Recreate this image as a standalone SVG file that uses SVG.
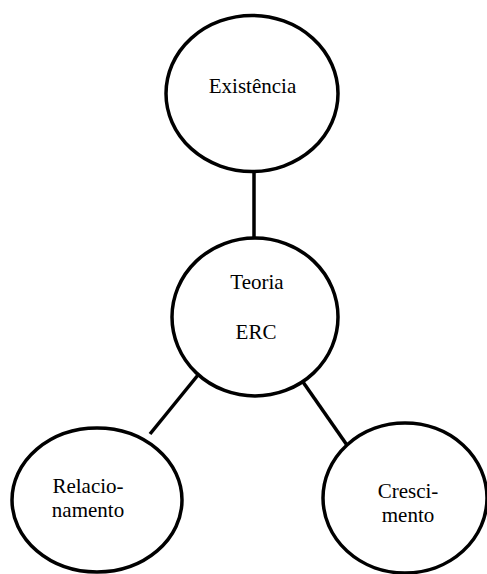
<svg xmlns="http://www.w3.org/2000/svg" width="487" height="574" viewBox="0 0 487 574">
<style>
.node{fill:#fff;stroke:#000;stroke-width:3.5}
.edge{stroke:#000;stroke-width:3.5;fill:none}
text{font-family:"Liberation Serif","Times New Roman",serif;font-size:21px;fill:#000;text-anchor:middle}
</style>
<rect width="487" height="574" fill="#fff"/>
<g id="connectors">
<line class="edge" x1="254" y1="172" x2="254" y2="239"/>
<line class="edge" x1="198" y1="375" x2="150" y2="434"/>
<line class="edge" x1="303" y1="382" x2="349" y2="448"/>
</g>
<g id="existencia">
<ellipse class="node" cx="252" cy="93.5" rx="86" ry="78"/>
<text x="252.5" y="93">Existência</text>
</g>
<g id="teoria">
<ellipse class="node" cx="255" cy="317" rx="83" ry="79"/>
<text x="257" y="289">Teoria</text>
<text x="256" y="339">ERC</text>
</g>
<g id="relacionamento">
<ellipse class="node" cx="97" cy="500" rx="85" ry="72"/>
<text x="88" y="493">Relacio-</text>
<text x="88" y="517">namento</text>
</g>
<g id="crescimento">
<ellipse class="node" cx="405" cy="498" rx="82" ry="75"/>
<text x="408" y="498">Cresci-</text>
<text x="408" y="522">mento</text>
</g>
</svg>
